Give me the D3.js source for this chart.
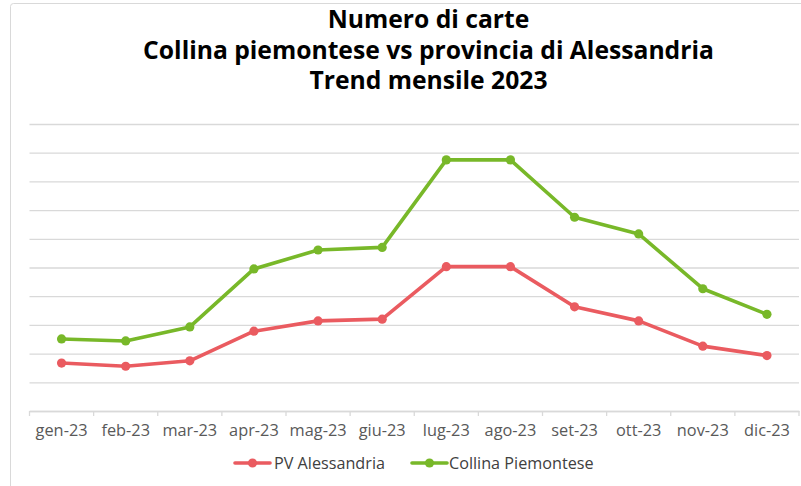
<!DOCTYPE html>
<html>
<head>
<meta charset="utf-8">
<script src="https://cdn.jsdelivr.net/npm/d3@7"></script>
<style>
  html, body { margin: 0; padding: 0; background: #ffffff; }
  svg { display: block; }
</style>
</head>
<body>
<svg id="chart" width="801" height="486"></svg>
<script>
// ---- data ----
const months = ["gen-23","feb-23","mar-23","apr-23","mag-23","giu-23","lug-23","ago-23","set-23","ott-23","nov-23","dic-23"];
const pvAlessandria = [167,156,175,278,314,320,503,503,363,314,226,193];
const collinaPiemontese = [251,244,293,495,561,570,875,875,675,617,426,337];
const seriesNames = ["PV Alessandria","Collina Piemontese"];
const seriesColors = ["#EA5B60","#78B829"];
const titleLines = ["Numero di carte","Collina piemontese vs provincia di Alessandria","Trend mensile 2023"];
const yTicks = [0,100,200,300,400,500,600,700,800,900,1000];

const W = 801, H = 486;
const plot = {left: 29.5, right: 799, top: 124, bottom: 411};
const FONT = "'Open Sans', 'DejaVu Sans', sans-serif";

const svg = d3.select("#chart");

// chart border
svg.append("rect")
  .attr("x", 10.5).attr("y", 3.5)
  .attr("width", W + 20).attr("height", H + 20)
  .attr("rx", 3)
  .attr("fill", "#fff").attr("stroke", "#d9d9d9").attr("stroke-width", 1);

// scales
const x = d3.scaleBand().domain(months).range([plot.left, plot.right]);
const y = d3.scaleLinear().domain([0, 1000]).range([plot.bottom, plot.top]);

// gridlines
const grid = svg.append("g")
  .attr("transform", `translate(${plot.left},0)`)
  .call(d3.axisLeft(y).tickValues(yTicks).tickSize(-(plot.right - plot.left)).tickFormat(""));
grid.select(".domain").remove();
grid.selectAll(".tick line").attr("stroke", "#d9d9d9").attr("stroke-width", 1.3);

// x axis (labels)
const xAxis = svg.append("g")
  .attr("transform", `translate(0,${plot.bottom})`)
  .call(d3.axisBottom(x).tickSize(0).tickPadding(13));
xAxis.select(".domain").attr("stroke", "#d9d9d9").attr("stroke-width", 1.3);
xAxis.selectAll(".tick text")
  .attr("fill", "#595959")
  .style("font-family", FONT)
  .style("font-size", "15px");

// boundary ticks
const bounds = months.map(m => x(m)).concat([x(months[months.length - 1]) + x.bandwidth()]);
svg.append("g").selectAll("line").data(bounds).join("line")
  .attr("x1", d => d).attr("x2", d => d)
  .attr("y1", plot.bottom).attr("y2", plot.bottom + 5)
  .attr("stroke", "#d9d9d9").attr("stroke-width", 1.3);

// fit font size to target width helper
function fit(sel, text, targetW) {
  const size = parseFloat(sel.style("font-size"));
  const w = sel.node().getComputedTextLength();
  if (w > 0) sel.style("font-size", (size * targetW / w) + "px");
}
// fit axis labels
const firstLabel = xAxis.select(".tick text");
const base = parseFloat(firstLabel.style("font-size"));
const wFirst = firstLabel.node().getComputedTextLength();
const axisSize = base * 52 / wFirst;
xAxis.selectAll(".tick text").style("font-size", axisSize + "px");

// lines
const cx = m => x(m) + x.bandwidth() / 2;
const allSeries = [pvAlessandria, collinaPiemontese];
const line = d3.line().x((d, i) => cx(months[i])).y(d => y(d));
allSeries.forEach((vals, si) => {
  svg.append("path")
    .datum(vals)
    .attr("d", line)
    .attr("fill", "none")
    .attr("stroke", seriesColors[si])
    .attr("stroke-width", 3.6)
    .attr("stroke-linejoin", "round")
    .attr("stroke-linecap", "round");
  svg.append("g").selectAll("circle").data(vals).join("circle")
    .attr("cx", (d, i) => cx(months[i]))
    .attr("cy", d => y(d))
    .attr("r", 4.6)
    .attr("fill", seriesColors[si]);
});

// title
const title = svg.append("g");
const titleBaselines = [28, 58.5, 88.5];
const titleTexts = titleLines.map((t, i) => title.append("text")
  .attr("x", 428.5).attr("y", titleBaselines[i])
  .attr("text-anchor", "middle")
  .attr("fill", "#000")
  .style("font-family", FONT)
  .style("font-weight", "700")
  .style("font-size", "22px")
  .text(t));
const wT = titleTexts[1].node().getComputedTextLength();
const tSize = 22 * 571 / wT;
titleTexts.forEach(t => t.style("font-size", tSize + "px"));

// legend
const legendItems = [
  {lx1: 235, lx2: 270, cxp: 252.5, tx: 274, tw: 111},
  {lx1: 412, lx2: 447, cxp: 429.5, tx: 449, tw: 146}
];
const legY = 463;
const legend = svg.append("g");
const legTexts = [];
legendItems.forEach((it, i) => {
  legend.append("line")
    .attr("x1", it.lx1).attr("x2", it.lx2)
    .attr("y1", legY).attr("y2", legY)
    .attr("stroke", seriesColors[i]).attr("stroke-width", 3.6)
    .attr("stroke-linecap", "round");
  legend.append("circle")
    .attr("cx", it.cxp).attr("cy", legY).attr("r", 4.6)
    .attr("fill", seriesColors[i]);
  legTexts.push(legend.append("text")
    .attr("x", it.tx).attr("y", legY + 5.5)
    .attr("fill", "#404040")
    .style("font-family", FONT)
    .style("font-size", "15px")
    .text(seriesNames[i]));
});
const wL = legTexts[0].node().getComputedTextLength();
const lSize = 15 * 111 / wL;
legTexts.forEach(t => t.style("font-size", lSize + "px"));
</script>
</body>
</html>
